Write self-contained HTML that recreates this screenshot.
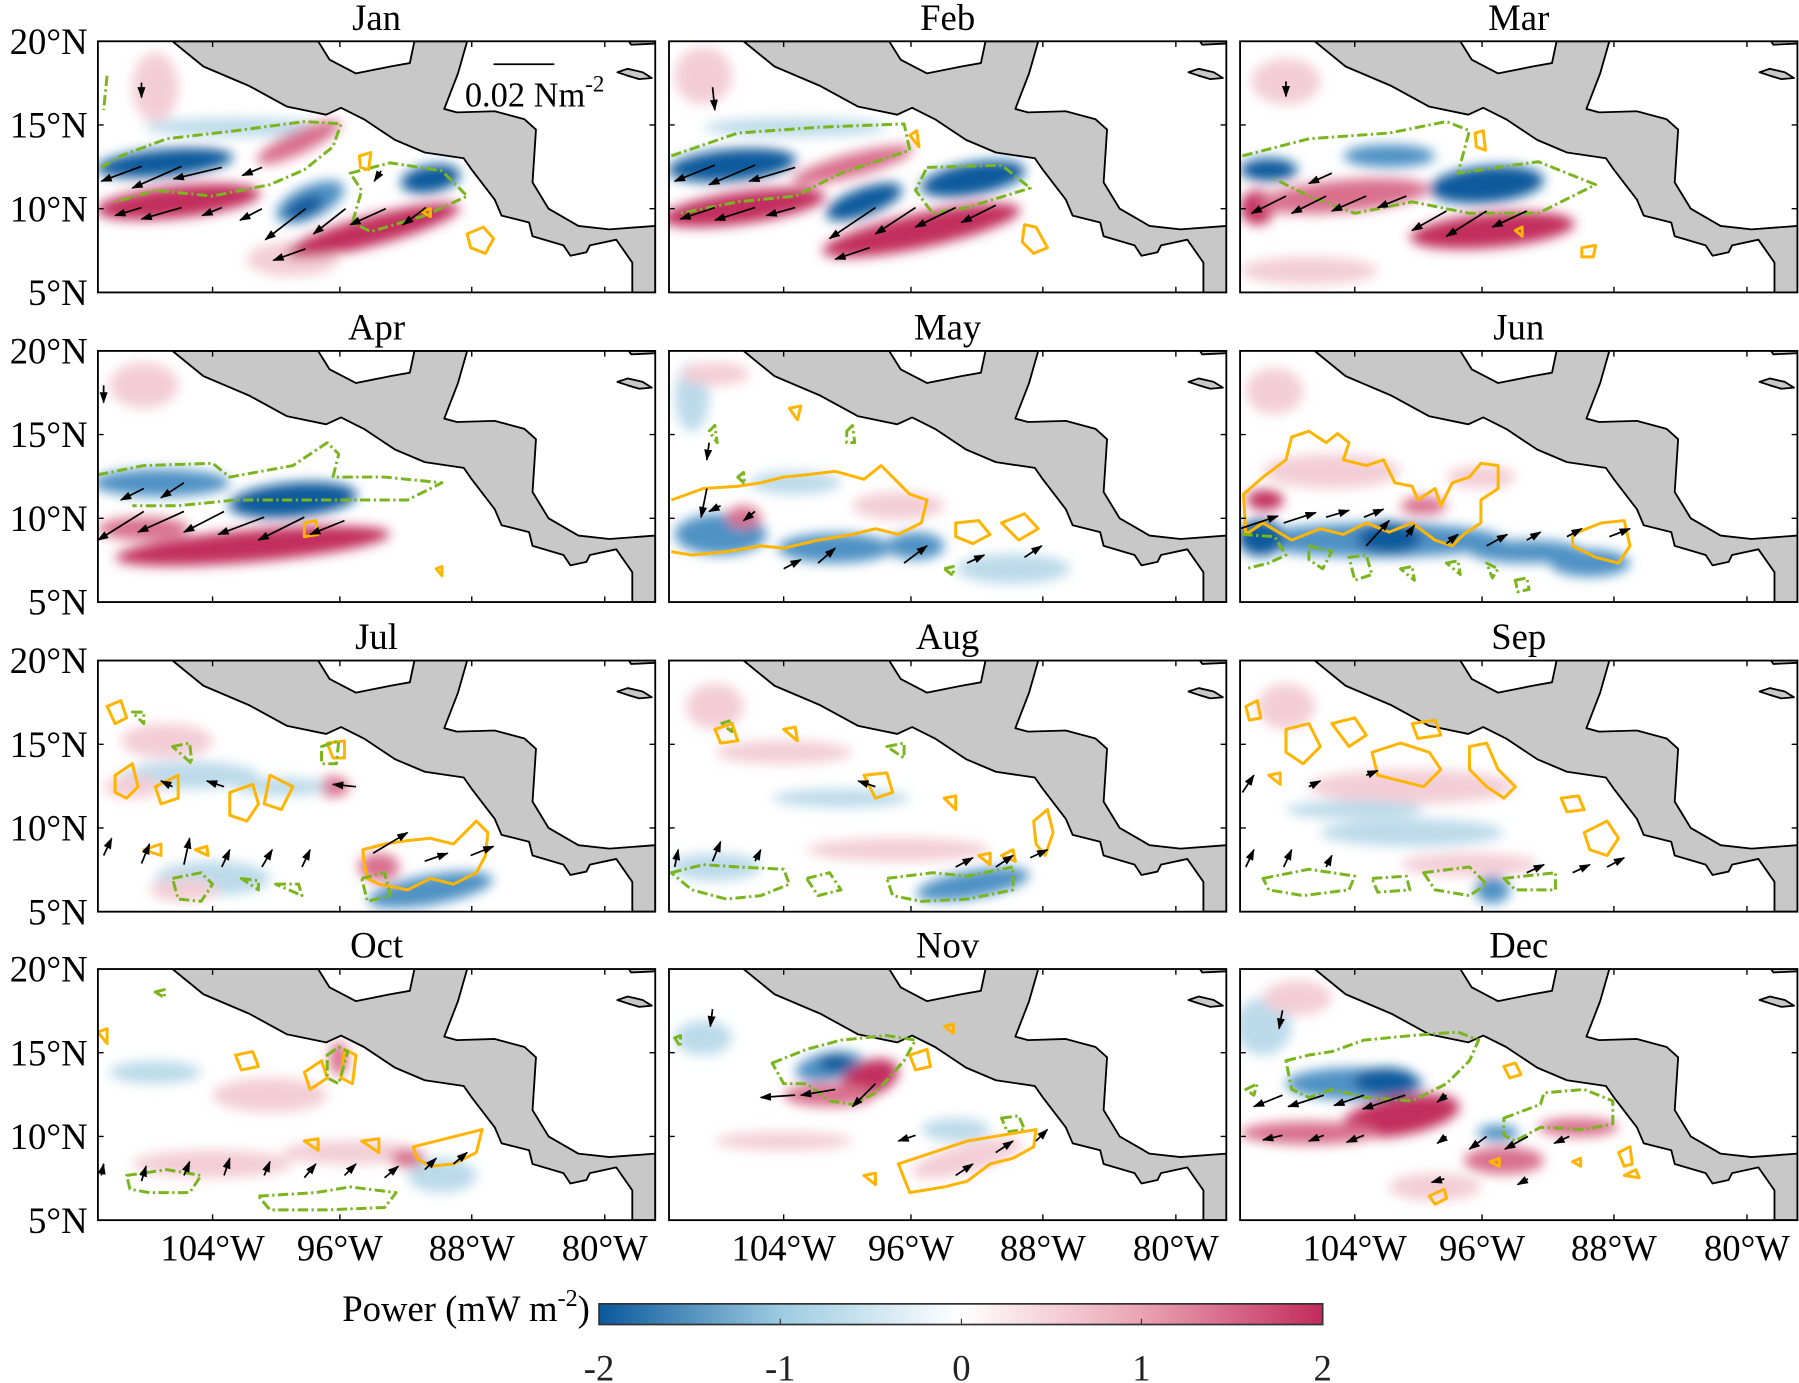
<!DOCTYPE html>
<html><head><meta charset="utf-8"><style>
html,body{margin:0;padding:0;background:#fff}
svg{display:block;font-family:"Liberation Serif","Times New Roman",serif}
text,tspan{font-family:"Liberation Serif","Times New Roman",serif}
.db{fill:#0b5a9c}.mb{fill:#4f92c4}.lb{fill:#bcdaea}
.dp{fill:#c22f5e}.mp{fill:#d9708e}.lp{fill:#f3cdd6}
.g{fill:none;stroke:#7ab51d;stroke-width:2.6;stroke-dasharray:9 3 2 3;stroke-linejoin:round}
.o{fill:none;stroke:#ffb400;stroke-width:2.6;stroke-linejoin:round}
line{stroke:#000;stroke-width:1.5;marker-end:url(#ah)}
.land{fill:#c8c8c8;stroke:#000;stroke-width:1.6;stroke-linejoin:round}
</style></head><body>
<svg width="1799" height="1383" viewBox="0 0 1568 1206" xmlns="http://www.w3.org/2000/svg" font-family="Liberation Serif, serif">
<defs>
<clipPath id="cp"><rect x="0" y="0" width="486" height="219"/></clipPath>
<filter id="bl" x="-30%" y="-60%" width="160%" height="220%"><feGaussianBlur stdDeviation="5"/></filter>
<marker id="ah" markerUnits="userSpaceOnUse" markerWidth="10" markerHeight="7" refX="9" refY="3.5" orient="auto"><path d="M0,0 L10,3.5 L0,7 Z" fill="#000"/></marker>
<g id="landg">
<path class="land" d="M65,0 L92,22 L132,39 L165,57 L199,64 L212,58 L232,68 L259,86 L285,97 L319,102 L326,112 L346,138 L352,152 L376,158 L379,170 L406,178 L412,187 L426,184 L429,178 L452,173 L466,193 L466,219 L486,219 L486,161 L446,164 L419,161 L393,146 L379,123 L382,77 L372,68 L346,61 L313,62 L302,59 L314,28 L322,0 L276,0 L272,19 L255,22 L225,28 L202,16 L192,0 Z"/>
<path class="land" d="M453,27 L462,24 L475,27 L483,32 L472,33 L462,30 Z"/>
<path class="land" d="M463,0 L486,0 L486,2 L465,3 Z"/>
</g>
<g id="frame">
<rect x="0" y="0" width="486" height="219" fill="none" stroke="#000" stroke-width="1.6"/>
<path d="M100,219v-5M211,219v-5M326,219v-5M442,219v-5M100,0v5M211,0v5M326,0v5M442,0v5M0,73h5M0,146h5M486,73h-5M486,146h-5" stroke="#000" stroke-width="1.2"/>
</g>
</defs>

<!-- JAN -->
<g transform="translate(85,36)"><g clip-path="url(#cp)">
<g filter="url(#bl)">
<ellipse class="lp" cx="50" cy="40" rx="20" ry="30"/><ellipse class="lb" cx="120" cy="75" rx="80" ry="8"/><ellipse class="lp" cx="170" cy="190" rx="40" ry="15"/>
<ellipse class="db" cx="58" cy="106" rx="60" ry="12" transform="rotate(-5 58 106)"/>
<ellipse class="dp" cx="70" cy="140" rx="72" ry="14" transform="rotate(-6 70 140)"/>
<ellipse class="mp" cx="175" cy="88" rx="40" ry="10" transform="rotate(-25 175 88)"/>
<ellipse class="mb" cx="185" cy="140" rx="32" ry="14" transform="rotate(-25 185 140)"/><ellipse class="db" cx="180" cy="145" rx="18" ry="9" transform="rotate(-25 180 145)"/>
<ellipse class="db" cx="290" cy="120" rx="26" ry="12" transform="rotate(-10 290 120)"/>
<ellipse class="dp" cx="240" cy="165" rx="78" ry="13" transform="rotate(-15 240 165)"/>
</g>
<use href="#landg"/>
<path class="g" d="M3,110 L20,100 L60,85 L120,78 L180,70 L212,72 L205,92 L180,112 L150,125 L100,135 L50,130 L15,140"/>
<path class="g" d="M220,115 L255,106 L300,113 L322,135 L285,152 L238,166 L222,158 L230,130 Z"/>
<path class="g" d="M8,30 L5,60"/>
<path class="o" d="M228,100 L238,97 L236,112 L229,110 Z"/><path class="o" d="M322,168 L336,162 L345,172 L338,185 L325,180 Z"/><path class="o" d="M282,148 L290,146 L290,153 Z"/>
<line x1="38" y1="109" x2="3" y2="122"/><line x1="73" y1="109" x2="30" y2="128"/><line x1="108" y1="110" x2="66" y2="120"/><line x1="143" y1="110" x2="126" y2="117"/>
<line x1="38" y1="145" x2="15" y2="152"/><line x1="73" y1="145" x2="38" y2="155"/><line x1="108" y1="145" x2="91" y2="152"/><line x1="143" y1="146" x2="124" y2="156"/>
<line x1="181" y1="146" x2="146" y2="173"/><line x1="216" y1="146" x2="188" y2="168"/><line x1="251" y1="146" x2="220" y2="160"/><line x1="286" y1="145" x2="266" y2="160"/>
<line x1="181" y1="181" x2="153" y2="191"/><line x1="247" y1="113" x2="241" y2="122"/><line x1="38" y1="36" x2="38" y2="49"/>
<path d="M345,20 L398,20" stroke="#000" stroke-width="1.5"/>
<text x="320" y="57" font-size="30">0.02 Nm<tspan font-size="20" dy="-13">-2</tspan></text>
</g><use href="#frame"/></g>

<!-- FEB -->
<g transform="translate(583,36)"><g clip-path="url(#cp)">
<g filter="url(#bl)">
<ellipse class="lb" cx="110" cy="75" rx="80" ry="8"/><ellipse class="lp" cx="30" cy="30" rx="25" ry="25"/>
<ellipse class="db" cx="55" cy="108" rx="56" ry="14" transform="rotate(-5 55 108)"/>
<ellipse class="dp" cx="65" cy="145" rx="72" ry="14" transform="rotate(-8 65 145)"/>
<ellipse class="mp" cx="160" cy="108" rx="55" ry="10" transform="rotate(-15 160 108)"/>
<ellipse class="db" cx="170" cy="140" rx="35" ry="12" transform="rotate(-20 170 140)"/>
<ellipse class="db" cx="265" cy="120" rx="46" ry="14" transform="rotate(-10 265 120)"/>
<ellipse class="dp" cx="220" cy="165" rx="88" ry="15" transform="rotate(-12 220 165)"/>
</g>
<use href="#landg"/>
<path class="g" d="M2,100 L60,80 L130,75 L205,72 L210,95 L150,115 L110,135 L60,140 L10,150"/>
<path class="g" d="M225,110 L290,108 L315,128 L260,145 L230,150 L215,130 Z"/>
<path class="o" d="M310,160 L320,162 L330,180 L318,185 L308,175 Z"/><path class="o" d="M210,82 L216,78 L218,92 Z"/>
<line x1="40" y1="108" x2="5" y2="122"/><line x1="75" y1="108" x2="35" y2="125"/><line x1="110" y1="110" x2="70" y2="122"/>
<line x1="40" y1="145" x2="10" y2="155"/><line x1="75" y1="145" x2="40" y2="156"/><line x1="110" y1="145" x2="85" y2="152"/>
<line x1="180" y1="145" x2="140" y2="172"/><line x1="215" y1="145" x2="180" y2="168"/><line x1="250" y1="145" x2="215" y2="162"/><line x1="285" y1="143" x2="255" y2="158"/>
<line x1="175" y1="180" x2="145" y2="190"/><line x1="38" y1="40" x2="40" y2="60"/>
</g><use href="#frame"/></g>

<!-- MAR -->
<g transform="translate(1081,36)"><g clip-path="url(#cp)">
<g filter="url(#bl)">
<ellipse class="lp" cx="60" cy="200" rx="60" ry="12"/><ellipse class="lp" cx="40" cy="35" rx="30" ry="20"/>
<ellipse class="db" cx="25" cy="112" rx="25" ry="10"/><ellipse class="mb" cx="130" cy="100" rx="40" ry="10"/>
<ellipse class="dp" cx="15" cy="145" rx="15" ry="15"/>
<ellipse class="mp" cx="90" cy="135" rx="75" ry="14" transform="rotate(-5 90 135)"/>
<ellipse class="db" cx="215" cy="125" rx="50" ry="16" transform="rotate(-5 215 125)"/>
<ellipse class="dp" cx="220" cy="165" rx="72" ry="15" transform="rotate(-5 220 165)"/>
</g>
<use href="#landg"/>
<path class="g" d="M2,100 L60,85 L130,80 L180,70 L200,78 L190,115 L260,105 L310,125 L260,150 L200,150 L150,140 L100,150 L60,135 L30,120"/>
<path class="o" d="M205,80 L212,78 L214,95 L206,92 Z"/><path class="o" d="M298,180 L310,178 L308,188 L298,188 Z"/><path class="o" d="M240,165 L246,162 L246,170 Z"/>
<line x1="40" y1="135" x2="10" y2="150"/><line x1="75" y1="135" x2="45" y2="150"/><line x1="110" y1="135" x2="80" y2="148"/><line x1="145" y1="135" x2="120" y2="145"/>
<line x1="180" y1="148" x2="150" y2="165"/><line x1="215" y1="148" x2="180" y2="170"/><line x1="250" y1="148" x2="220" y2="162"/><line x1="80" y1="115" x2="60" y2="124"/><line x1="40" y1="35" x2="40" y2="48"/>
</g><use href="#frame"/></g>

<!-- APR -->
<g transform="translate(85,306)"><g clip-path="url(#cp)">
<g filter="url(#bl)">
<ellipse class="lp" cx="40" cy="30" rx="30" ry="20"/>
<ellipse class="mb" cx="55" cy="115" rx="60" ry="12"/>
<ellipse class="db" cx="170" cy="130" rx="56" ry="15" transform="rotate(-5 170 130)"/>
<ellipse class="dp" cx="135" cy="170" rx="120" ry="14" transform="rotate(-5 135 170)"/>
<ellipse class="mp" cx="40" cy="155" rx="40" ry="10"/>
</g>
<use href="#landg"/>
<path class="g" d="M0,108 L40,100 L100,98 L115,110 L170,100 L200,80 L210,90 L205,110 L250,110 L300,115 L270,130 L200,130 L120,130 L70,135 L30,135"/>
<path class="o" d="M180,150 L190,148 L192,160 L180,162 Z"/><path class="o" d="M295,190 L300,188 L300,196 Z"/>
<line x1="40" y1="140" x2="0" y2="165"/><line x1="75" y1="140" x2="35" y2="158"/><line x1="110" y1="140" x2="75" y2="158"/><line x1="145" y1="145" x2="105" y2="160"/>
<line x1="180" y1="145" x2="140" y2="165"/><line x1="215" y1="148" x2="185" y2="160"/><line x1="40" y1="120" x2="20" y2="130"/><line x1="75" y1="115" x2="55" y2="128"/><line x1="5" y1="30" x2="5" y2="45"/>
</g><use href="#frame"/></g>

<!-- MAY -->
<g transform="translate(583,306)"><g clip-path="url(#cp)">
<g filter="url(#bl)">
<ellipse class="lb" cx="20" cy="40" rx="15" ry="30"/><ellipse class="lp" cx="40" cy="20" rx="30" ry="10"/>
<ellipse class="mb" cx="45" cy="160" rx="40" ry="18"/><ellipse class="mb" cx="145" cy="172" rx="50" ry="13"/>
<ellipse class="mb" cx="215" cy="170" rx="25" ry="12"/><ellipse class="lb" cx="300" cy="190" rx="50" ry="13"/>
<ellipse class="lp" cx="200" cy="135" rx="40" ry="12"/><ellipse class="mp" cx="65" cy="145" rx="15" ry="10"/>
<ellipse class="lb" cx="110" cy="115" rx="40" ry="10"/>
</g>
<use href="#landg"/>
<path class="o" d="M2,130 L30,120 L60,118 L80,115 L100,110 L120,108 L145,105 L170,112 L185,100 L200,115 L210,125 L225,130 L220,150 L200,160 L180,155 L160,160 L130,165 L100,172 L80,170 L50,175 L20,178 L2,175"/>
<path class="o" d="M105,50 L115,48 L112,60 Z"/><path class="o" d="M250,150 L270,148 L280,160 L265,168 L250,162 Z"/><path class="o" d="M290,150 L310,142 L322,155 L305,165 Z"/>
<path class="g" d="M35,70 L40,65 L42,80 Z"/><path class="g" d="M155,70 L160,65 L162,80 L155,80 Z"/><path class="g" d="M60,110 L65,106 L66,116 Z"/><path class="g" d="M240,190 L248,188 L248,196 Z"/>
<line x1="33" y1="120" x2="28" y2="145"/><line x1="45" y1="135" x2="35" y2="140"/><line x1="75" y1="140" x2="65" y2="148"/><line x1="130" y1="185" x2="145" y2="172"/>
<line x1="100" y1="190" x2="115" y2="182"/><line x1="205" y1="185" x2="225" y2="170"/><line x1="260" y1="185" x2="275" y2="178"/><line x1="310" y1="180" x2="325" y2="170"/><line x1="35" y1="80" x2="33" y2="95"/>
</g><use href="#frame"/></g>

<!-- JUN -->
<g transform="translate(1081,306)"><g clip-path="url(#cp)">
<g filter="url(#bl)">
<ellipse class="lp" cx="30" cy="35" rx="25" ry="20"/>
<ellipse class="mb" cx="120" cy="165" rx="110" ry="15"/><ellipse class="db" cx="18" cy="163" rx="20" ry="16"/>
<ellipse class="db" cx="130" cy="163" rx="28" ry="14"/><ellipse class="mb" cx="250" cy="175" rx="50" ry="10"/>
<ellipse class="mb" cx="305" cy="185" rx="35" ry="12"/>
<ellipse class="dp" cx="22" cy="130" rx="16" ry="9"/><ellipse class="mp" cx="160" cy="135" rx="20" ry="8"/>
<ellipse class="lp" cx="80" cy="105" rx="60" ry="15"/><ellipse class="lp" cx="210" cy="110" rx="30" ry="10"/>
</g>
<use href="#landg"/>
<path class="o" d="M3,125 L20,110 L40,95 L45,75 L60,70 L75,80 L85,72 L95,80 L90,95 L110,100 L125,95 L135,115 L150,118 L155,130 L170,120 L175,135 L185,115 L200,110 L210,98 L225,100 L225,120 L210,130 L210,150 L195,160 L185,170 L170,165 L150,150 L130,158 L110,150 L90,160 L70,155 L45,165 L20,150 L5,160 Z"/>
<path class="o" d="M290,160 L315,150 L335,148 L340,170 L330,185 L310,180 L300,175 L290,170 Z"/>
<path class="g" d="M2,160 L30,162 L40,178 L25,185 L5,190"/><path class="g" d="M60,170 L80,175 L72,190 L60,182 Z"/><path class="g" d="M95,180 L110,178 L115,195 L100,200 Z"/>
<path class="g" d="M140,190 L150,188 L152,200 Z"/><path class="g" d="M180,185 L190,183 L192,195 Z"/><path class="g" d="M215,185 L225,190 L220,198 Z"/><path class="g" d="M240,200 L250,198 L252,208 L242,210 Z"/>
<line x1="0" y1="155" x2="33" y2="144"/><line x1="38" y1="150" x2="66" y2="141"/><line x1="75" y1="145" x2="95" y2="139"/><line x1="110" y1="170" x2="130" y2="148"/>
<line x1="108" y1="145" x2="125" y2="138"/><line x1="145" y1="162" x2="152" y2="152"/><line x1="180" y1="168" x2="190" y2="160"/><line x1="215" y1="170" x2="233" y2="160"/>
<line x1="250" y1="165" x2="262" y2="158"/><line x1="285" y1="162" x2="298" y2="155"/><line x1="322" y1="162" x2="340" y2="155"/>
</g><use href="#frame"/></g>

<!-- JUL -->
<g transform="translate(85,576)"><g clip-path="url(#cp)">
<g filter="url(#bl)">
<ellipse class="lp" cx="60" cy="70" rx="40" ry="15"/><ellipse class="lb" cx="80" cy="100" rx="60" ry="12"/>
<ellipse class="lp" cx="30" cy="110" rx="25" ry="10"/><ellipse class="lb" cx="100" cy="190" rx="50" ry="15"/>
<ellipse class="lp" cx="75" cy="200" rx="30" ry="10"/>
<ellipse class="mb" cx="290" cy="200" rx="55" ry="13" transform="rotate(-10 290 200)"/>
<ellipse class="mp" cx="245" cy="180" rx="18" ry="12"/><ellipse class="mp" cx="205" cy="110" rx="14" ry="9"/>
<ellipse class="lb" cx="160" cy="110" rx="40" ry="8"/>
</g>
<use href="#landg"/>
<path class="o" d="M231,165 L250,160 L270,157 L290,155 L310,160 L320,150 L330,140 L340,150 L338,170 L330,185 L310,195 L290,190 L270,200 L245,195 L235,190 L232,175 Z"/>
<path class="o" d="M8,40 L20,35 L25,50 L15,55 Z"/><path class="o" d="M15,100 L30,90 L35,110 L25,120 L15,115 Z"/><path class="o" d="M50,110 L70,100 L70,120 L55,125 Z"/>
<path class="o" d="M115,115 L135,108 L140,125 L130,140 L115,135 Z"/><path class="o" d="M150,100 L170,110 L160,130 L145,125 Z"/><path class="o" d="M200,72 L215,70 L215,85 L205,85 Z"/>
<path class="o" d="M40,165 L55,160 L55,170 Z"/><path class="o" d="M85,165 L95,162 L96,170 Z"/>
<path class="g" d="M30,45 L40,45 L40,55 Z"/><path class="g" d="M65,75 L80,72 L82,90 Z"/><path class="g" d="M195,75 L210,70 L208,90 L195,90 Z"/>
<path class="g" d="M65,190 L90,185 L100,195 L90,210 L70,208 Z"/><path class="g" d="M125,190 L140,192 L140,200 Z"/><path class="g" d="M155,195 L175,195 L178,205 Z"/><path class="g" d="M230,190 L250,185 L255,205 L235,210 Z"/>
<line x1="5" y1="170" x2="12" y2="155"/><line x1="38" y1="177" x2="45" y2="160"/><line x1="75" y1="178" x2="80" y2="155"/><line x1="108" y1="180" x2="115" y2="165"/>
<line x1="143" y1="180" x2="152" y2="165"/><line x1="178" y1="180" x2="185" y2="165"/><line x1="240" y1="168" x2="270" y2="150"/><line x1="285" y1="175" x2="305" y2="168"/>
<line x1="325" y1="170" x2="345" y2="162"/><line x1="65" y1="110" x2="55" y2="105"/><line x1="110" y1="110" x2="95" y2="105"/><line x1="225" y1="110" x2="205" y2="108"/>
</g><use href="#frame"/></g>

<!-- AUG -->
<g transform="translate(583,576)"><g clip-path="url(#cp)">
<g filter="url(#bl)">
<ellipse class="lp" cx="100" cy="80" rx="60" ry="10"/><ellipse class="lb" cx="150" cy="120" rx="60" ry="8"/>
<ellipse class="lp" cx="200" cy="165" rx="80" ry="10"/><ellipse class="lb" cx="40" cy="180" rx="40" ry="12"/>
<ellipse class="mb" cx="265" cy="195" rx="50" ry="12" transform="rotate(-10 265 195)"/><ellipse class="lp" cx="40" cy="40" rx="25" ry="20"/>
</g>
<use href="#landg"/>
<path class="g" d="M2,185 L30,178 L60,180 L100,182 L105,195 L80,205 L50,208 L20,200 Z"/>
<path class="g" d="M120,190 L140,185 L150,200 L130,205 Z"/><path class="g" d="M190,190 L230,185 L260,188 L300,180 L300,200 L260,208 L220,210 L195,205 Z"/>
<path class="g" d="M45,55 L55,52 L55,62 Z"/><path class="g" d="M190,75 L205,72 L205,85 Z"/>
<path class="o" d="M40,60 L55,55 L60,70 L45,72 Z"/><path class="o" d="M100,60 L110,58 L112,70 Z"/><path class="o" d="M170,100 L190,98 L195,115 L180,120 Z"/><path class="o" d="M240,120 L250,118 L250,130 Z"/>
<path class="o" d="M318,140 L330,130 L335,150 L328,170 L320,160 Z"/><path class="o" d="M270,170 L280,168 L280,178 Z"/><path class="o" d="M290,170 L300,165 L302,175 Z"/>
<line x1="5" y1="180" x2="8" y2="165"/><line x1="38" y1="175" x2="45" y2="158"/><line x1="75" y1="175" x2="80" y2="165"/><line x1="250" y1="180" x2="265" y2="172"/>
<line x1="285" y1="180" x2="300" y2="170"/><line x1="315" y1="172" x2="330" y2="165"/><line x1="180" y1="110" x2="165" y2="105"/>
</g><use href="#frame"/></g>

<!-- SEP -->
<g transform="translate(1081,576)"><g clip-path="url(#cp)">
<g filter="url(#bl)">
<ellipse class="lp" cx="150" cy="110" rx="90" ry="15"/><ellipse class="lb" cx="100" cy="130" rx="60" ry="8"/>
<ellipse class="lb" cx="150" cy="150" rx="80" ry="12"/><ellipse class="lp" cx="200" cy="178" rx="60" ry="10"/>
<ellipse class="mb" cx="220" cy="200" rx="15" ry="12"/><ellipse class="lp" cx="40" cy="40" rx="25" ry="20"/>
</g>
<use href="#landg"/>
<path class="o" d="M5,40 L15,35 L18,50 L8,52 Z"/><path class="o" d="M40,60 L60,55 L70,75 L55,90 L40,80 Z"/><path class="o" d="M80,55 L100,50 L110,65 L95,75 Z"/>
<path class="o" d="M115,80 L140,72 L165,80 L175,95 L160,110 L140,105 L120,100 Z"/><path class="o" d="M150,55 L170,52 L175,65 L155,68 Z"/><path class="o" d="M200,75 L215,72 L225,95 L240,110 L230,120 L215,110 L200,95 Z"/>
<path class="o" d="M280,120 L295,118 L300,130 L285,132 Z"/><path class="o" d="M300,150 L320,140 L330,155 L320,170 L305,165 Z"/><path class="o" d="M25,100 L35,98 L35,108 Z"/>
<path class="g" d="M20,190 L60,182 L100,188 L95,200 L55,205 L25,200 Z"/><path class="g" d="M115,190 L145,188 L148,200 L120,202 Z"/><path class="g" d="M160,185 L200,180 L215,195 L200,205 L170,200 Z"/><path class="g" d="M230,190 L275,185 L275,200 L240,200 Z"/>
<line x1="2" y1="115" x2="12" y2="100"/><line x1="5" y1="180" x2="12" y2="165"/><line x1="38" y1="180" x2="45" y2="165"/><line x1="75" y1="180" x2="80" y2="170"/>
<line x1="250" y1="185" x2="265" y2="178"/><line x1="290" y1="185" x2="305" y2="178"/><line x1="320" y1="180" x2="335" y2="172"/><line x1="60" y1="110" x2="70" y2="105"/><line x1="110" y1="100" x2="120" y2="96"/>
</g><use href="#frame"/></g>

<!-- OCT -->
<g transform="translate(85,845)"><g clip-path="url(#cp)">
<g filter="url(#bl)">
<ellipse class="lb" cx="50" cy="90" rx="40" ry="10"/><ellipse class="lp" cx="150" cy="110" rx="50" ry="15"/>
<ellipse class="lp" cx="100" cy="170" rx="70" ry="12"/><ellipse class="lp" cx="220" cy="160" rx="60" ry="10"/>
<ellipse class="mp" cx="210" cy="78" rx="8" ry="15"/><ellipse class="lb" cx="300" cy="180" rx="30" ry="15"/>
<ellipse class="mp" cx="270" cy="165" rx="15" ry="8"/>
</g>
<use href="#landg"/>
<path class="o" d="M275,155 L295,150 L315,145 L335,140 L330,160 L310,170 L290,172 L278,165 Z"/>
<path class="o" d="M0,55 L8,52 L8,65 Z"/><path class="o" d="M120,75 L135,72 L140,85 L125,88 Z"/><path class="o" d="M180,90 L195,80 L200,95 L185,105 Z"/>
<path class="o" d="M215,70 L225,75 L222,100 L212,95 Z"/><path class="o" d="M180,150 L192,148 L192,158 Z"/><path class="o" d="M230,150 L245,148 L245,160 Z"/>
<path class="g" d="M25,180 L60,175 L90,180 L80,195 L45,195 L28,192 Z"/><path class="g" d="M140,198 L190,195 L220,190 L260,195 L250,208 L200,210 L150,210 Z"/>
<path class="g" d="M200,75 L210,68 L218,72 L210,100 L200,95 Z"/><path class="g" d="M50,20 L58,18 L58,25 Z"/>
<line x1="3" y1="180" x2="5" y2="170"/><line x1="38" y1="185" x2="42" y2="172"/><line x1="75" y1="180" x2="80" y2="168"/><line x1="110" y1="180" x2="115" y2="165"/>
<line x1="145" y1="180" x2="150" y2="168"/><line x1="180" y1="182" x2="190" y2="170"/><line x1="215" y1="180" x2="225" y2="170"/><line x1="250" y1="182" x2="262" y2="172"/>
<line x1="285" y1="175" x2="295" y2="165"/><line x1="310" y1="170" x2="322" y2="160"/>
</g><use href="#frame"/></g>

<!-- NOV -->
<g transform="translate(583,845)"><g clip-path="url(#cp)">
<g filter="url(#bl)">
<ellipse class="lp" cx="100" cy="150" rx="60" ry="8"/><ellipse class="lb" cx="30" cy="60" rx="25" ry="15"/>
<ellipse class="mb" cx="140" cy="85" rx="30" ry="12" transform="rotate(-10 140 85)"/><ellipse class="db" cx="145" cy="82" rx="15" ry="8"/>
<ellipse class="dp" cx="175" cy="95" rx="26" ry="15" transform="rotate(-20 175 95)"/><ellipse class="mp" cx="140" cy="110" rx="40" ry="10"/>
<ellipse class="lp" cx="260" cy="165" rx="50" ry="12" transform="rotate(-15 260 165)"/><ellipse class="lb" cx="250" cy="140" rx="30" ry="10"/>
</g>
<use href="#landg"/>
<path class="g" d="M90,82 L120,70 L150,62 L190,58 L215,62 L205,80 L180,108 L160,118 L140,115 L120,100 L100,100 Z"/>
<path class="g" d="M290,130 L305,128 L310,140 L295,142 Z"/><path class="g" d="M5,60 L10,58 L10,68 Z"/>
<path class="o" d="M200,170 L230,160 L260,150 L290,145 L320,140 L318,155 L300,165 L280,170 L260,185 L240,190 L210,195 Z"/>
<path class="o" d="M210,75 L225,70 L228,85 L215,88 Z"/><path class="o" d="M170,180 L180,178 L180,188 Z"/><path class="o" d="M240,50 L248,48 L248,56 Z"/>
<line x1="38" y1="35" x2="36" y2="50"/><line x1="110" y1="110" x2="80" y2="112"/><line x1="145" y1="105" x2="115" y2="110"/><line x1="180" y1="100" x2="160" y2="120"/>
<line x1="215" y1="145" x2="200" y2="150"/><line x1="285" y1="160" x2="300" y2="150"/><line x1="320" y1="150" x2="330" y2="140"/><line x1="250" y1="180" x2="265" y2="170"/>
</g><use href="#frame"/></g>

<!-- DEC -->
<g transform="translate(1081,845)"><g clip-path="url(#cp)">
<g filter="url(#bl)">
<ellipse class="lb" cx="20" cy="50" rx="25" ry="25"/><ellipse class="lp" cx="50" cy="25" rx="30" ry="15"/>
<ellipse class="mb" cx="100" cy="100" rx="60" ry="14"/><ellipse class="db" cx="127" cy="98" rx="28" ry="12"/>
<ellipse class="dp" cx="140" cy="128" rx="52" ry="17" transform="rotate(-10 140 128)"/><ellipse class="mp" cx="60" cy="143" rx="60" ry="10"/>
<ellipse class="mb" cx="225" cy="143" rx="18" ry="7"/><ellipse class="mp" cx="295" cy="138" rx="35" ry="8"/>
<ellipse class="mp" cx="230" cy="167" rx="35" ry="12"/><ellipse class="lp" cx="170" cy="190" rx="40" ry="12"/>
</g>
<use href="#landg"/>
<path class="g" d="M40,80 L60,75 L80,72 L108,62 L150,58 L190,55 L208,62 L200,80 L180,100 L150,115 L110,112 L80,105 L60,112 L45,105 Z"/>
<path class="g" d="M230,130 L262,118 L265,108 L300,105 L325,115 L325,135 L300,140 L262,138 L240,150 L230,145 Z"/>
<path class="g" d="M5,105 L15,100 L12,110 Z"/>
<path class="o" d="M230,85 L240,82 L245,92 L235,95 Z"/><path class="o" d="M165,198 L178,192 L180,200 L170,205 Z"/><path class="o" d="M290,168 L297,165 L297,172 Z"/>
<path class="o" d="M330,160 L340,155 L342,170 L335,172 Z"/><path class="o" d="M335,180 L345,175 L348,182 Z"/><path class="o" d="M218,168 L226,165 L226,172 Z"/>
<line x1="37" y1="36" x2="34" y2="52"/><line x1="37" y1="110" x2="12" y2="120"/><line x1="73" y1="110" x2="42" y2="120"/><line x1="108" y1="110" x2="82" y2="119"/>
<line x1="144" y1="110" x2="107" y2="122"/><line x1="180" y1="110" x2="172" y2="116"/><line x1="37" y1="145" x2="20" y2="149"/><line x1="73" y1="145" x2="60" y2="150"/>
<line x1="108" y1="145" x2="93" y2="151"/><line x1="180" y1="146" x2="172" y2="152"/><line x1="215" y1="146" x2="200" y2="157"/><line x1="251" y1="146" x2="231" y2="157"/>
<line x1="287" y1="146" x2="274" y2="152"/><line x1="178" y1="183" x2="167" y2="186"/><line x1="251" y1="183" x2="242" y2="188"/>
</g><use href="#frame"/></g>

<!-- titles -->
<g font-size="32" text-anchor="middle" font-family="Liberation Serif, serif">
<text x="328" y="26">Jan</text><text x="826" y="26">Feb</text><text x="1324" y="26">Mar</text>
<text x="328" y="296">Apr</text><text x="826" y="296">May</text><text x="1324" y="296">Jun</text>
<text x="328" y="566">Jul</text><text x="826" y="566">Aug</text><text x="1324" y="566">Sep</text>
<text x="328" y="835">Oct</text><text x="826" y="835">Nov</text><text x="1324" y="835">Dec</text>
</g>
<g font-size="32" text-anchor="end" font-family="Liberation Serif, serif">
<text x="76" y="47">20°N</text><text x="76" y="120">15°N</text><text x="76" y="193">10°N</text><text x="76" y="266">5°N</text>
<text x="76" y="317">20°N</text><text x="76" y="390">15°N</text><text x="76" y="463">10°N</text><text x="76" y="536">5°N</text>
<text x="76" y="587">20°N</text><text x="76" y="660">15°N</text><text x="76" y="733">10°N</text><text x="76" y="806">5°N</text>
<text x="76" y="856">20°N</text><text x="76" y="929">15°N</text><text x="76" y="1002">10°N</text><text x="76" y="1075">5°N</text>
</g>
<g font-size="32" text-anchor="middle" font-family="Liberation Serif, serif">
<text x="185" y="1099">104°W</text><text x="296" y="1099">96°W</text><text x="411" y="1099">88°W</text><text x="527" y="1099">80°W</text>
<text x="683" y="1099">104°W</text><text x="794" y="1099">96°W</text><text x="909" y="1099">88°W</text><text x="1025" y="1099">80°W</text>
<text x="1181" y="1099">104°W</text><text x="1292" y="1099">96°W</text><text x="1407" y="1099">88°W</text><text x="1523" y="1099">80°W</text>
</g>
<defs><linearGradient id="cb" x1="0" x2="1" y1="0" y2="0">
<stop offset="0" stop-color="#0a589c"/><stop offset="0.25" stop-color="#9ccbe1"/><stop offset="0.5" stop-color="#ffffff"/>
<stop offset="0.75" stop-color="#eaa3b4"/><stop offset="1" stop-color="#c22b5d"/></linearGradient></defs>
<rect x="522" y="1137" width="631" height="18" fill="url(#cb)" stroke="#333" stroke-width="1.5"/>
<path d="M680,1155v-5M838,1155v-5M995,1155v-5" stroke="#333" stroke-width="1"/>
<text x="514" y="1152" font-size="32" text-anchor="end" font-family="Liberation Serif, serif">Power (mW m<tspan font-size="21" dy="-13">-2</tspan><tspan dy="13">)</tspan></text>
<g font-size="32" text-anchor="middle" fill="#222" font-family="Liberation Serif, serif">
<text x="522" y="1204">-2</text><text x="680" y="1204">-1</text><text x="838" y="1204">0</text><text x="995" y="1204">1</text><text x="1153" y="1204">2</text>
</g>
</svg>
</body></html>
